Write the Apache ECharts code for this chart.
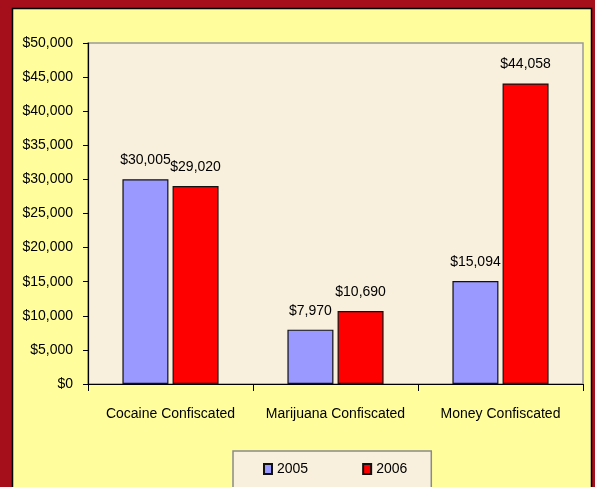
<!DOCTYPE html>
<html>
<head>
<meta charset="utf-8">
<script src="https://cdn.jsdelivr.net/npm/echarts@6/dist/echarts.min.js"></script>
<style>
  html, body { margin: 0; padding: 0; background: #a50e1b; }
  #chart { width: 595px; height: 487px; }
</style>
</head>
<body>
<div id="chart"></div>
<script>
const categories = ["Cocaine Confiscated", "Marijuana Confiscated", "Money Confiscated"]
const values2005 = [30005, 7970, 15094]
const values2006 = [29020, 10690, 44058]
const seriesNames = ["2005", "2006"]

const FONT = "'Liberation Sans', Arial, sans-serif"
const money = (v) => "$" + Number(v).toLocaleString("en-US")

const chart = echarts.init(document.getElementById("chart"), null, { renderer: "canvas" })

const barLabel = {
  show: true,
  position: "top",
  distance: 12,
  color: "#000",
  fontFamily: FONT,
  fontSize: 14,
  formatter: (p) => money(p.value)
}

chart.setOption({
  backgroundColor: "#a50e1b",
  animation: false,
  // yellow panel inside the dark red frame
  graphic: [
    {
      type: "rect",
      z: -10,
      shape: { x: 12.5, y: 8.5, width: 579, height: 490 },
      style: { fill: "#fffd9c", stroke: "#000", lineWidth: 1.5 }
    }
  ],
  grid: {
    left: 88,
    right: 12,
    top: 43,
    bottom: 103,
    show: true,
    backgroundColor: "#f8efdc",
    borderColor: "#9a9a9a",
    borderWidth: 1.5
  },
  legend: {
    data: seriesNames,
    icon: "rect",
    left: 233,
    top: 451,
    padding: [11, 24, 24, 30],
    itemGap: 54,
    itemWidth: 8,
    itemHeight: 10,
    backgroundColor: "#f8efdc",
    borderColor: "#8a8a8a",
    borderWidth: 1.5,
    textStyle: { fontFamily: FONT, fontSize: 14, color: "#000" }
  },
  xAxis: {
    type: "category",
    data: categories,
    axisLine: { lineStyle: { color: "#000", width: 1.2 } },
    axisTick: { show: true, length: 7, lineStyle: { color: "#000" } },
    axisLabel: { interval: 0, margin: 23, color: "#000", fontFamily: FONT, fontSize: 14 }
  },
  yAxis: {
    type: "value",
    min: 0,
    max: 50000,
    interval: 5000,
    splitLine: { show: false },
    axisLine: { show: true, lineStyle: { color: "#000", width: 1.2 } },
    axisTick: { show: true, length: 5, lineStyle: { color: "#000" } },
    axisLabel: { margin: 15, color: "#000", fontFamily: FONT, fontSize: 14, formatter: money }
  },
  series: [
    {
      name: seriesNames[0],
      type: "bar",
      data: values2005,
      barWidth: 46,
      barGap: "9%",
      itemStyle: { color: "#9999ff", borderColor: "#111", borderWidth: 1.2 },
      label: barLabel
    },
    {
      name: seriesNames[1],
      type: "bar",
      data: values2006,
      barWidth: 46,
      itemStyle: { color: "#ff0000", borderColor: "#111", borderWidth: 1.2 },
      label: barLabel
    }
  ]
})
</script>
</body>
</html>
